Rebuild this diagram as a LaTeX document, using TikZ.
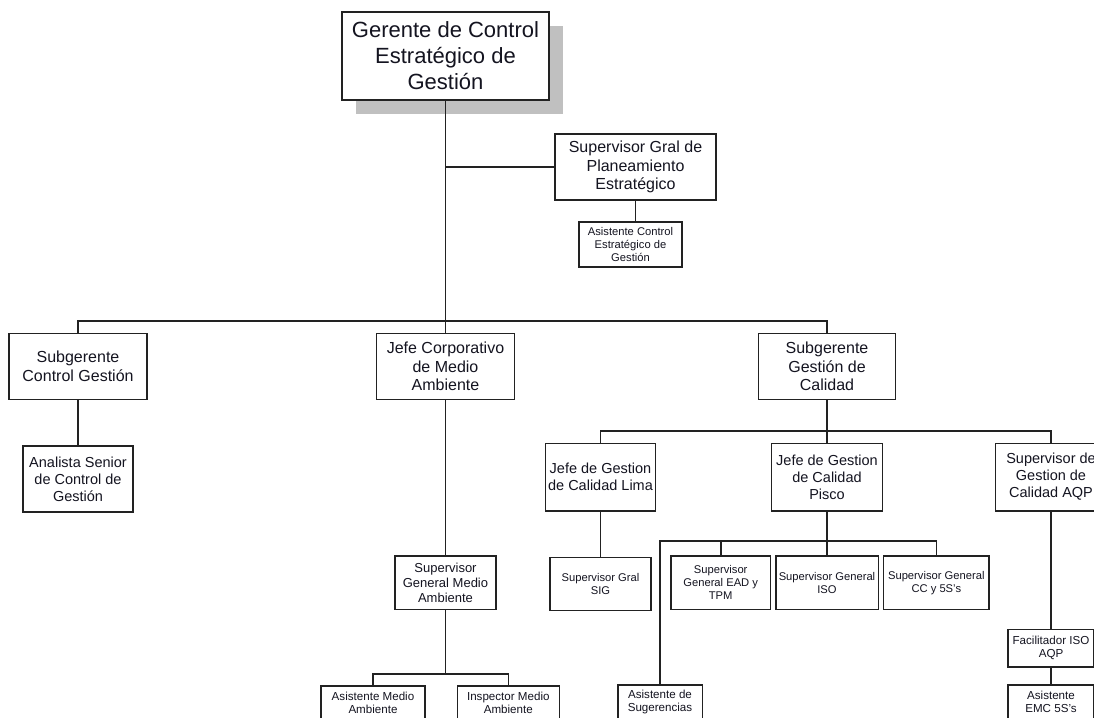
\documentclass[tikz,border=0pt]{standalone}
\usepackage{fontspec}
\setmainfont{Liberation Sans}
\usetikzlibrary{shadows}
\definecolor{ln}{HTML}{222222}
\definecolor{shd}{HTML}{C0C0C0}
\definecolor{txt}{HTML}{141420}
\tikzset{
  box/.style={draw=ln, line width=1.6pt, rectangle, inner sep=0pt, align=center, text=txt, fill=white},
  wh/.style 2 args={minimum width=#1pt, minimum height=#2pt},
  conn/.style={draw=ln, line width=1.6pt},
  fA/.style={font=\fontsize{22}{26}\selectfont},
  fB/.style={font=\fontsize{16}{18.5}\selectfont},
  fC/.style={font=\fontsize{14.5}{17}\selectfont},
  fD/.style={font=\fontsize{13}{15}\selectfont},
  fE/.style={font=\fontsize{11.2}{13}\selectfont},
  fF/.style={font=\fontsize{11.6}{12.5}\selectfont},
}
\begin{document}
\begin{tikzpicture}[x=1pt,y=-1pt]
\useasboundingbox (0,0) rectangle (1094,717);
\clip (0,0) rectangle (1094,717);
\fill[white] (0,0) rectangle (1094,717);

% top
\node[box, wh={207}{88}, fA, drop shadow={shadow xshift=14pt, shadow yshift=-14pt, fill=shd, opacity=1}] (top) at (445.5,56) {Gerente de Control\\Estratégico de\\Gestión};
\node[box, wh={161}{66}, fB] (sgp) at (635.5,167) {Supervisor Gral de\\Planeamiento\\Estratégico};
\node[box, wh={103}{45}, fE] (acg) at (630.5,244.5) {Asistente Control\\Estratégico de\\Gestión};

% first level
\node[box, wh={138}{66}, fB] (sgcg) at (78,366.3) {Subgerente\\Control Gestión};
\node[box, wh={138}{66}, fB] (jcma) at (445.5,366.3) {Jefe Corporativo\\de Medio\\Ambiente};
\node[box, wh={137}{66}, fB] (sgc) at (827,366.3) {Subgerente\\Gestión de\\Calidad};

% left branch
\node[box, wh={110}{66}, fC] (asc) at (78,479) {Analista Senior\\de Control de\\Gestión};

% medio ambiente branch
\node[box, wh={101}{53.3}, fD] (sgma) at (445.5,582.7) {Supervisor\\General Medio\\Ambiente};
\node[box, wh={104}{34}, fF] (ama) at (373,703) {Asistente Medio\\Ambiente};
\node[box, wh={102}{34}, fF] (ima) at (508.3,703) {Inspector Medio\\Ambiente};

% calidad branch
\node[box, wh={110}{67.4}, fC] (jgl) at (600.5,477) {Jefe de Gestion\\de Calidad Lima};
\node[box, wh={111}{67.4}, fC] (jgp) at (827,477) {Jefe de Gestion\\de Calidad\\Pisco};
\node[box, wh={111}{67.4}, fC] (aqp) at (1051,477) {Supervisor de\\Gestion de\\Calidad AQP};

\node[box, wh={101}{53}, fE] (sig) at (600.5,584) {Supervisor Gral\\SIG};
\node[box, wh={99.3}{53.3}, fE] (ead) at (720.7,582.7) {Supervisor\\General EAD y\\TPM};
\node[box, wh={102.6}{53.3}, fE] (iso) at (827,582.7) {Supervisor General\\ISO};
\node[box, wh={105.3}{53.3}, fE] (cc) at (936.3,582.7) {Supervisor General\\CC y 5S's};
\node[box, wh={84.6}{34}, fF] (sug) at (660,702) {Asistente de\\Sugerencias};

\node[box, wh={86.3}{37.4}, fF] (fac) at (1051,648) {Facilitador ISO\\AQP};
\node[box, wh={86.3}{34}, fF] (emc) at (1051,702) {Asistente\\EMC 5S's};

% bars
\coordinate (bar1) at (0,321);
\coordinate (bar2) at (0,431);
\coordinate (bar3) at (0,674);
\coordinate (pbar) at (0,540.7);

% connectors
\draw[conn] (top.south) -- (jcma.north);
\draw[conn] (top.south |- sgp.west) -- (sgp.west);
\draw[conn] (sgp.south) -- (sgp.south |- acg.north);
\draw[conn] (sgcg.north) -- (sgcg.north |- bar1) -- (sgc.north |- bar1) -- (sgc.north);
\draw[conn] (sgcg.south) -- (asc.north);
\draw[conn] (jcma.south) -- (sgma.north);
\draw[conn] (sgma.south) -- (sgma.south |- bar3);
\draw[conn] (ama.north) -- (ama.north |- bar3) -- (ima.north |- bar3) -- (ima.north);
\draw[conn] (sgc.south) -- (jgp.north);
\draw[conn] (jgl.north) -- (jgl.north |- bar2) -- (aqp.north |- bar2) -- (aqp.north);
\draw[conn] (jgl.south) -- (sig.north);
\draw[conn] (jgp.south) -- (iso.north);
\draw[conn] (sug.north) -- (sug.north |- pbar) -- (cc.north |- pbar) -- (cc.north);
\draw[conn] (ead.north) -- (ead.north |- pbar);
\draw[conn] (aqp.south) -- (fac.north);
\draw[conn] (fac.south) -- (emc.north);
\end{tikzpicture}
\end{document}
